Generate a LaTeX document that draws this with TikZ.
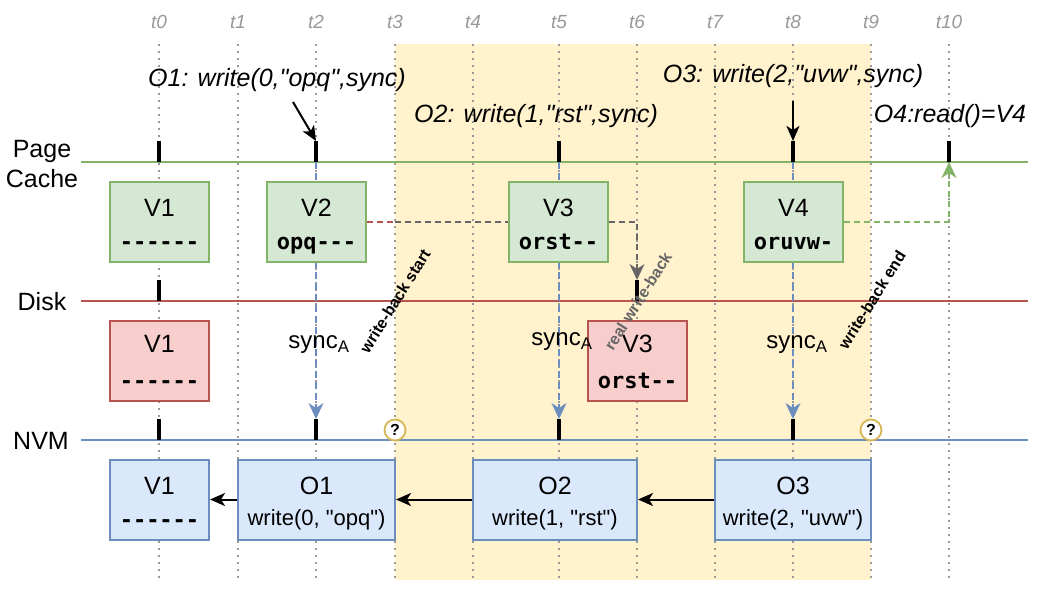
\documentclass[tikz,border=0pt]{standalone}
\usepackage{fontspec}
\setmainfont{Liberation Sans}[Ligatures=TeXOff]
\newfontfamily\monob{DejaVu Sans Mono}[Ligatures=TeXOff]
\usetikzlibrary{arrows.meta}
\definecolor{pcfill}{HTML}{D5E8D4}\definecolor{pcline}{HTML}{82B366}
\definecolor{dkfill}{HTML}{F8CECC}\definecolor{dkline}{HTML}{B85450}
\definecolor{nvfill}{HTML}{DAE8FC}\definecolor{nvline}{HTML}{6C8EBF}
\definecolor{ybg}{HTML}{FFF2CC}\definecolor{qline}{HTML}{D6B656}
\definecolor{tgray}{HTML}{999999}\definecolor{dgray}{HTML}{666666}
\begin{document}
\begin{tikzpicture}[x=1pt,y=-1pt,
  box/.style={draw,line width=2pt,minimum width=99pt,minimum height=80pt,inner sep=0pt},
  pcbox/.style={box,fill=pcfill,draw=pcline},
  dkbox/.style={box,fill=dkfill,draw=dkline},
  nvbox/.style={box,fill=nvfill,draw=nvline},
  ttl/.style={font=\fontsize{25}{25}\selectfont,anchor=base,inner sep=0pt},
  sub/.style={font=\fontsize{22}{22}\selectfont,anchor=base,inner sep=0pt},
  mono/.style={font=\fontsize{22}{22}\selectfont\monob\bfseries,anchor=base,inner sep=0pt},
  tlabel/.style={text=tgray,font=\fontsize{19}{19}\selectfont\itshape},
  oplabel/.style={font=\fontsize{25}{25}\selectfont\itshape,anchor=base,inner sep=0pt},
  lane/.style={font=\fontsize{25}{25}\selectfont,anchor=base,inner sep=0pt},
  timeline/.style={tgray,line width=1.5pt,dash pattern=on 1.5pt off 5.5pt},
  tickmark/.style={line width=4pt},
  syncarr/.style={nvline,line width=1.5pt,dash pattern=on 7pt off 4pt,-{Stealth[length=16pt,width=15pt,inset=5pt]}},
  blk/.style={black,line width=2pt,-{Stealth[length=15pt,width=13pt,inset=4pt]}},
  rot/.style={rotate=58,font=\bfseries\fontsize{16}{16}\selectfont,inner sep=0pt},
  qmark/.style={circle,draw=qline,fill=white,line width=1.8pt,minimum size=21pt,inner sep=0pt,font=\bfseries\fontsize{16}{16}\selectfont},
  synclab/.style={font=\fontsize{24}{24}\selectfont,inner sep=0pt}
]
\useasboundingbox (0,0) rectangle (1062,589);
\fill[ybg] (395,44) rectangle (871,580);
\foreach \x/\n in {159/0,238/1,316/2,395/3,473/4,559/5,637/6,715/7,793/8,871/9,949/10}{
  \node[tlabel] (lt\n) at (\x,22) {t\n};
  \draw[timeline] (\x,44) -- (\x,580);
  \coordinate (pc\n) at (\x,162);
  \coordinate (pc\n t) at (\x,141);
  \coordinate (dk\n) at (\x,301);
  \coordinate (dk\n t) at (\x,280);
  \coordinate (nv\n) at (\x,440);
  \coordinate (nv\n t) at (\x,419);
}
% lanes
\draw[pcline,line width=2pt] (81,162) -- (1028,162);
\draw[dkline,line width=2pt] (81,301) -- (1028,301);
\draw[nvline,line width=2pt] (81,440) -- (1028,440);
\node[lane] (lpage) at (42,157) {Page};
\node[lane] (lcache) at (42,187) {Cache};
\node[lane] (ldisk) at (42,310) {Disk};
\node[lane] (lnvm) at (41,449) {NVM};
% sync arrows (behind boxes)
\draw[syncarr] (pc2) -- (nv2t);
\draw[syncarr] (pc5) -- (nv5t);
\draw[syncarr] (pc8) -- (nv8t);
% boxes
\node[pcbox] (pV1) at (159.5,222) {};
\node[pcbox] (pV2) at (316.5,222) {};
\node[pcbox] (pV3) at (558.5,222) {};
\node[pcbox] (pV4) at (793.5,222) {};
\node[dkbox] (dV1) at (159.5,361) {};
\node[dkbox] (dV3) at (637.5,361) {};
\node[nvbox] (nV1) at (159.5,499.5) {};
\node[nvbox,minimum width=157pt] (O1) at (316.5,499.5) {};
\node[nvbox,minimum width=164pt] (O2) at (555,499.5) {};
\node[nvbox,minimum width=156pt] (O3) at (793,499.5) {};
% box texts
\node[ttl] at (159.5,216) {V1};  \node[mono] at (159.5,249) {------};
\node[ttl] at (316.5,216) {V2};  \node[mono] at (316.5,249) {opq---};
\node[ttl] at (558.5,216) {V3};  \node[mono] at (558.5,249) {orst--};
\node[ttl] at (793.5,216) {V4};  \node[mono] at (793.5,249) {oruvw-};
\node[ttl] at (159.5,352) {V1};  \node[mono] at (159.5,388) {------};
\node[ttl] at (637.5,352) {V3};  \node[mono] at (637.5,388) {orst--};
\node[ttl] at (159.5,494) {V1};  \node[mono] at (159.5,527) {------};
\node[ttl] at (316.5,494) {O1};  \node[sub] at (316.5,525) {write(0, "opq")};
\node[ttl] at (555,494) {O2};    \node[sub] at (555,525) {write(1, "rst")};
\node[ttl] at (793,494) {O3};    \node[sub] at (793,525) {write(2, "uvw")};
% dashed links in page cache
\draw[dkline,line width=1.5pt,dash pattern=on 6pt off 4pt] (pV2.east) -- (pV2.east -| pc3);
\draw[dgray,line width=1.5pt,dash pattern=on 6pt off 4pt] (pV2.east -| pc3) -- (pV3.west);
\draw[dgray,line width=1.5pt,dash pattern=on 6pt off 4pt,-{Stealth[length=16pt,width=15pt,inset=5pt]}] (pV3.east) -- (pV3.east -| dk6) -- (dk6t);
\draw[pcline,line width=1.5pt,dash pattern=on 6pt off 4pt,-{Stealth[length=16pt,width=15pt,inset=5pt]}] (pV4.east) -- (pV4.east -| pc10) -- (pc10);
% NVM chain arrows
\draw[blk] (O1.west) -- (nV1.east);
\draw[blk] (O2.west) -- (O1.east);
\draw[blk] (O3.west) -- (O2.east);
% tick marks
\foreach \n in {0,2,5,8,10}{\draw[tickmark] (pc\n) -- (pc\n t);}
\foreach \n in {0,6}{\draw[tickmark] (dk\n) -- (dk\n t);}
\foreach \n in {0,2,5,8}{\draw[tickmark] (nv\n) -- (nv\n t);}
% operation labels
\node[oplabel] (op1) at (277,86) {O1: write(0,"opq",sync)};
\node[oplabel] (op2) at (536,122) {O2: write(1,"rst",sync)};
\node[oplabel] (op3) at (793,82) {O3: write(2,"uvw",sync)};
\node[oplabel] (op4) at (950,122) {O4:read()=V4};
\coordinate (a1) at (293,102);
\coordinate (a3) at (793,101);
\draw[blk] (a1) -- (pc2t);
\draw[blk] (a3) -- (pc8t);
% sync labels
\node[synclab] (s2) at (319,345) {sync\textsubscript{A}};
\node[synclab] (s5) at (562,342) {sync\textsubscript{A}};
\node[synclab] (s8) at (797,345) {sync\textsubscript{A}};
% rotated labels
\node[rot] (wbs) at (395,301) {write-back start};
\node[rot,text=dgray] (rwb) at (638,301) {real write-back};
\node[rot] (wbe) at (872,300) {write-back end};
% question marks
\node[qmark] (q3) at (395,430) {?};
\node[qmark] (q9) at (871,430) {?};
\end{tikzpicture}
\end{document}
